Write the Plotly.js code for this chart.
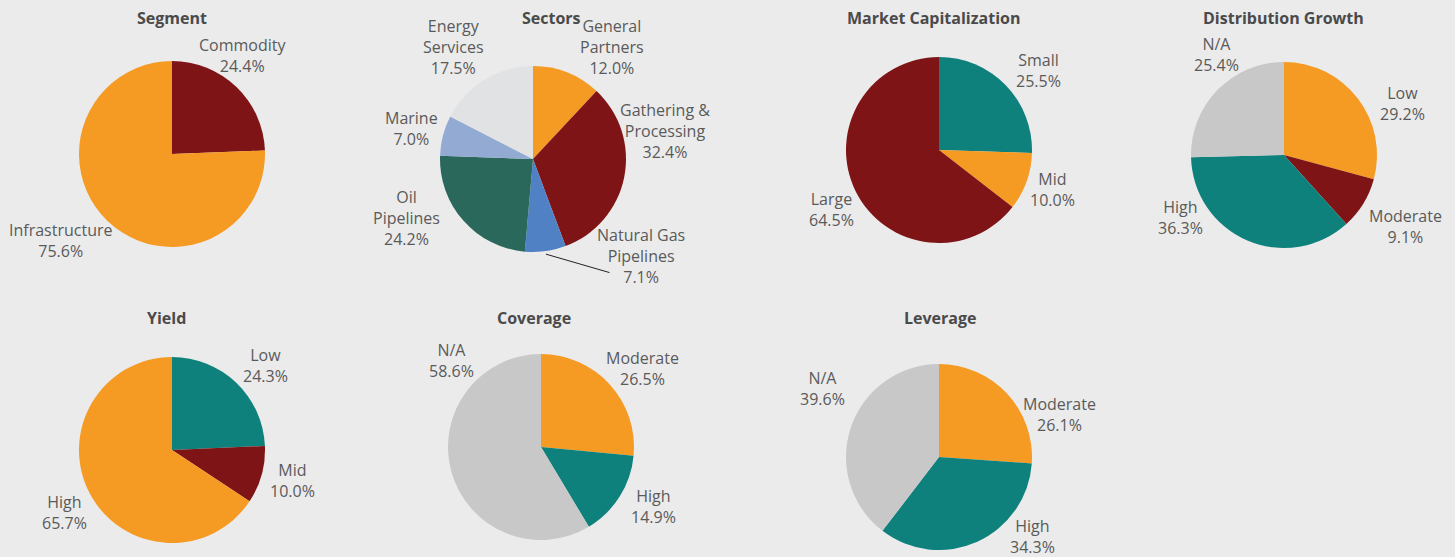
<!DOCTYPE html>
<html>
<head>
<meta charset="utf-8">
<script src="https://cdn.plot.ly/plotly-3.0.1.min.js"></script>
<style>html,body{margin:0;padding:0;background:#ebebeb;}#chart{width:1455px;height:557px;}</style>
</head>
<body>
<div id="chart"></div>
<script>
// ---- data ----
var segmentLabels = ["Commodity", "Infrastructure"];
var segmentValues = [24.4, 75.6];
var sectorsLabels = ["General<br>Partners", "Gathering &<br>Processing", "Natural Gas<br>Pipelines", "Oil<br>Pipelines", "Marine", "Energy<br>Services"];
var sectorsValues = [12.0, 32.4, 7.1, 24.2, 7.0, 17.5];
var mcapLabels = ["Small", "Mid", "Large"];
var mcapValues = [25.5, 10.0, 64.5];
var distLabels = ["Low", "Moderate", "High", "N/A"];
var distValues = [29.2, 9.1, 36.3, 25.4];
var yieldLabels = ["Low", "Mid", "High"];
var yieldValues = [24.3, 10.0, 65.7];
var coverageLabels = ["Moderate", "High", "N/A"];
var coverageValues = [26.5, 14.9, 58.6];
var leverageLabels = ["Moderate", "High", "N/A"];
var leverageValues = [26.1, 34.3, 39.6];
var titles = ["Segment", "Sectors", "Market Capitalization", "Distribution Growth", "Yield", "Coverage", "Leverage"];

// ---- styling / layout (pixel positions) ----
var ORANGE = "#f59a23", RED = "#7e1416", TEAL = "#0e817d", GRAY = "#c8c8c8";
var W = 1455, H = 557;
var pies = [
  {labels: segmentLabels, values: segmentValues, colors: [RED, ORANGE], cx: 172, cy: 154, r: 93, tx: 172, ty: 18,
   lab: [[243, 55], [60, 240]]},
  {labels: sectorsLabels, values: sectorsValues, colors: [ORANGE, RED, "#4f81c4", "#29685b", "#93abd3", "#e1e2e4"], cx: 533, cy: 159, r: 93, tx: 551, ty: 18,
   lab: [[612, 47], [665, 131], [641, 256], [406, 218], [411, 128], [453, 47]], leader: 2},
  {labels: mcapLabels, values: mcapValues, colors: [TEAL, ORANGE, RED], cx: 939, cy: 150, r: 93, tx: 933, ty: 18,
   lab: [[1038, 70], [1052, 190], [831, 209]]},
  {labels: distLabels, values: distValues, colors: [ORANGE, RED, TEAL, GRAY], cx: 1284, cy: 155, r: 93, tx: 1283, ty: 18,
   lab: [[1402, 104], [1405, 226], [1180, 218], [1216, 54]]},
  {labels: yieldLabels, values: yieldValues, colors: [TEAL, RED, ORANGE], cx: 172, cy: 450, r: 93, tx: 166, ty: 318,
   lab: [[265, 365], [292, 480], [64, 512]]},
  {labels: coverageLabels, values: coverageValues, colors: [ORANGE, TEAL, GRAY], cx: 541, cy: 447, r: 93, tx: 534, ty: 318,
   lab: [[642, 368], [653, 506], [451, 360]]},
  {labels: leverageLabels, values: leverageValues, colors: [ORANGE, TEAL, GRAY], cx: 939, cy: 457, r: 93, tx: 940, ty: 318,
   lab: [[1059, 414], [1032, 536], [822, 389]]}
];
var FONT = "'Open Sans', Lato, sans-serif";
var TXT = "#5a5a5a";
var data = [], annotations = [];
function px(x) { return x / W; }
function py(y) { return 1 - y / H; }
pies.forEach(function (p, i) {
  data.push({
    type: "pie",
    labels: p.labels,
    values: p.values,
    sort: false,
    direction: "clockwise",
    rotation: 0,
    marker: {colors: p.colors, line: {width: 0}},
    textinfo: "none",
    hoverinfo: "label+value",
    showlegend: false,
    domain: {
      x: [(p.cx - p.r) / W, (p.cx + p.r) / W],
      y: [(H - p.cy - p.r) / H, (H - p.cy + p.r) / H]
    }
  });
  annotations.push({
    text: "<b>" + titles[i] + "</b>",
    xref: "paper", yref: "paper",
    x: px(p.tx), y: py(p.ty),
    xanchor: "center", yanchor: "middle",
    showarrow: false,
    font: {family: FONT, size: 16, color: "#4a4a4a"}
  });
  var total = p.values.reduce(function (a, b) { return a + b; }, 0);
  var cum = 0;
  p.values.forEach(function (v, j) {
    var mid = (cum + v / 2) / total * 2 * Math.PI;
    cum += v;
    annotations.push({
      text: p.labels[j] + "<br>" + v.toFixed(1) + "%",
      xref: "paper", yref: "paper",
      x: px(p.lab[j][0]), y: py(p.lab[j][1]),
      xanchor: "center", yanchor: "middle", align: "center",
      showarrow: false,
      borderpad: 0,
      font: {family: FONT, size: 16, color: TXT}
    });
    if (p.leader === j) {
      var tipX = p.cx + (p.r + 3) * Math.sin(mid);
      var tipY = p.cy - (p.r + 3) * Math.cos(mid);
      annotations.push({
        text: "", xref: "paper", yref: "paper",
        x: px(tipX), y: py(tipY),
        ax: p.lab[j][0] - 30 - tipX, ay: p.lab[j][1] + 17 - tipY,
        showarrow: true, arrowhead: 0, arrowwidth: 1, arrowcolor: "#222222", standoff: 0, startstandoff: 0
      });
    }
  });
});
var layout = {
  width: W, height: H,
  margin: {l: 0, r: 0, t: 0, b: 0},
  paper_bgcolor: "#ebebeb",
  plot_bgcolor: "#ebebeb",
  annotations: annotations,
  font: {family: FONT, color: TXT}
};
Plotly.newPlot("chart", data, layout, {displayModeBar: false, staticPlot: true});
</script>
</body>
</html>
